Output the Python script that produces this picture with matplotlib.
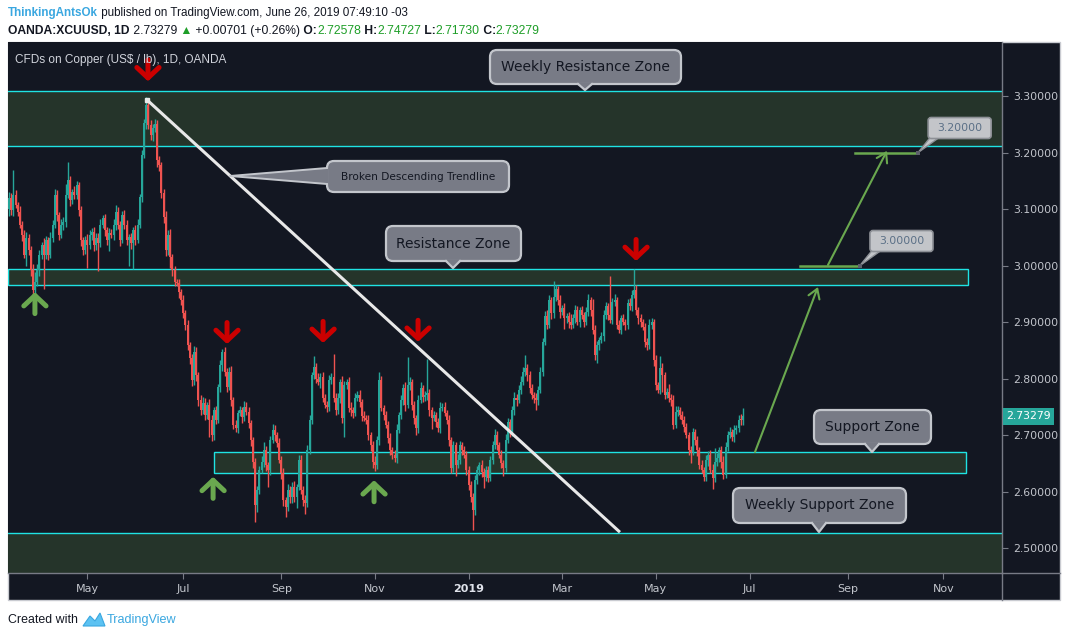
import numpy as np
import pandas as pd
import matplotlib
matplotlib.use("Agg")
import matplotlib.pyplot as plt
import matplotlib.transforms as mtransforms
from matplotlib.patches import Rectangle, FancyBboxPatch, Polygon
from matplotlib.lines import Line2D

# ---------------- data ----------------
START_DATE = "2018-03-12"          # first daily bar
FIRST_OPEN = 3.100
CLOSES = [
    3.120, 3.098, 3.125, 3.107, 3.095, 3.072, 3.054, 3.019, 3.049, 3.027,
    2.992, 2.957, 2.971, 2.992, 3.019, 3.036, 3.019, 3.045, 3.019, 3.049,
    3.072, 3.125, 3.089, 3.054, 3.072, 3.077, 3.125, 3.151, 3.116, 3.130,
    3.125, 3.142, 3.098, 3.045, 3.027, 3.045, 3.036, 3.054, 3.060, 3.036,
    3.049, 3.040, 3.072, 3.084, 3.063, 3.045, 3.058, 3.054, 3.072, 3.095,
    3.072, 3.045, 3.089, 3.072, 3.045, 3.050, 3.040, 3.063, 3.045, 3.072,
    3.121, 3.196, 3.252, 3.284, 3.249, 3.231, 3.243, 3.250, 3.187, 3.178,
    3.128, 3.086, 3.027, 3.054, 3.015, 2.992, 2.971, 2.969, 2.953, 2.939,
    2.916, 2.895, 2.859, 2.836, 2.797, 2.847, 2.806, 2.762, 2.744, 2.757,
    2.735, 2.753, 2.727, 2.700, 2.744, 2.727, 2.785, 2.824, 2.847, 2.812,
    2.785, 2.812, 2.762, 2.718, 2.712, 2.739, 2.744, 2.732, 2.750, 2.741,
    2.721, 2.691, 2.652, 2.576, 2.603, 2.638, 2.652, 2.673, 2.647, 2.638,
    2.691, 2.709, 2.700, 2.686, 2.656, 2.633, 2.585, 2.573, 2.603, 2.590,
    2.608, 2.590, 2.608, 2.656, 2.603, 2.585, 2.580, 2.673, 2.727, 2.806,
    2.820, 2.800, 2.794, 2.803, 2.766, 2.753, 2.750, 2.797, 2.803, 2.766,
    2.744, 2.766, 2.794, 2.730, 2.788, 2.794, 2.748, 2.744, 2.739, 2.766,
    2.770, 2.758, 2.734, 2.730, 2.727, 2.700, 2.682, 2.652, 2.647, 2.691,
    2.797, 2.748, 2.735, 2.718, 2.695, 2.673, 2.665, 2.659, 2.709, 2.735,
    2.762, 2.783, 2.753, 2.788, 2.794, 2.753, 2.730, 2.712, 2.762, 2.783,
    2.767, 2.770, 2.774, 2.744, 2.730, 2.735, 2.723, 2.712, 2.748, 2.750,
    2.739, 2.727, 2.691, 2.642, 2.682, 2.647, 2.656, 2.682, 2.673, 2.665,
    2.638, 2.612, 2.590, 2.567, 2.620, 2.638, 2.647, 2.635, 2.626, 2.638,
    2.624, 2.656, 2.682, 2.700, 2.682, 2.665, 2.650, 2.642, 2.691, 2.723,
    2.705, 2.744, 2.766, 2.762, 2.780, 2.794, 2.812, 2.819, 2.806, 2.783,
    2.771, 2.766, 2.762, 2.780, 2.812, 2.865, 2.911, 2.895, 2.939, 2.916,
    2.944, 2.958, 2.939, 2.918, 2.925, 2.907, 2.910, 2.900, 2.895, 2.907,
    2.921, 2.900, 2.921, 2.912, 2.900, 2.918, 2.939, 2.921, 2.886, 2.842,
    2.859, 2.868, 2.875, 2.912, 2.928, 2.912, 2.904, 2.935, 2.939, 2.895,
    2.886, 2.907, 2.900, 2.895, 2.933, 2.928, 2.948, 2.957, 2.921, 2.907,
    2.900, 2.891, 2.865, 2.859, 2.895, 2.900, 2.833, 2.788, 2.780, 2.819,
    2.806, 2.771, 2.776, 2.766, 2.762, 2.718, 2.741, 2.744, 2.735, 2.727,
    2.714, 2.700, 2.673, 2.670, 2.705, 2.691, 2.673, 2.647, 2.638, 2.626,
    2.656, 2.665, 2.638, 2.624, 2.652, 2.660, 2.673, 2.652, 2.630, 2.679,
    2.700, 2.705, 2.697, 2.709, 2.712, 2.727, 2.72578, 2.73279,
]
# wick lengths above / below the body, in thousandths of a dollar
UP_WICK = [
    10, 8, 44, 8, 6, 10, 6, 8, 10, 6,
    8, 10, 18, 10, 8, 6, 12, 8, 6, 10,
    8, 10, 8, 6, 10, 8, 20, 32, 8, 6,
    10, 8, 6, 8, 6, 8, 10, 8, 6, 8,
    8, 8, 10, 6, 8, 6, 8, 6, 10, 12,
    8, 6, 8, 10, 8, 6, 8, 6, 8, 10,
    6, 8, 8, 14, 8, 8, 8, 10, 8, 6,
    6, 8, 10, 8, 10, 6, 8, 6, 8, 6,
    8, 6, 8, 6, 8, 10, 8, 6, 8, 10,
    8, 6, 10, 8, 6, 8, 6, 8, 6, 8,
    6, 8, 10, 6, 8, 6, 8, 6, 10, 8,
    8, 6, 6, 8, 6, 8, 10, 14, 8, 6,
    8, 10, 8, 6, 8, 6, 8, 6, 10, 6,
    8, 10, 6, 8, 8, 6, 8, 10, 8, 6,
    20, 8, 10, 6, 8, 6, 8, 10, 6, 40,
    8, 8, 6, 10, 8, 6, 8, 10, 6, 8,
    8, 10, 6, 8, 6, 8, 6, 8, 10, 8,
    15, 8, 6, 8, 6, 8, 6, 8, 10, 6,
    8, 8, 10, 50, 8, 6, 8, 6, 8, 10,
    6, 8, 60, 8, 6, 8, 6, 8, 10, 6,
    8, 6, 8, 6, 8, 6, 10, 8, 6, 8,
    6, 8, 6, 8, 10, 8, 6, 8, 6, 8,
    8, 6, 8, 10, 8, 6, 8, 6, 10, 8,
    6, 8, 10, 6, 8, 10, 8, 23, 6, 8,
    8, 6, 8, 6, 8, 6, 8, 10, 8, 6,
    28, 8, 6, 8, 6, 8, 6, 8, 15, 8,
    10, 8, 6, 8, 6, 8, 10, 6, 20, 8,
    8, 6, 8, 10, 8, 6, 70, 8, 10, 6,
    8, 6, 8, 6, 8, 10, 8, 37, 8, 6,
    8, 6, 8, 6, 10, 8, 6, 8, 6, 20,
    8, 6, 8, 15, 6, 8, 10, 8, 6, 8,
    6, 8, 6, 8, 8, 6, 8, 6, 8, 6,
    8, 6, 8, 10, 25, 8, 6, 8, 10, 8,
    8, 10, 6, 8, 6, 8, 10, 14,
]
DN_WICK = [
    12, 8, 10, 6, 8, 6, 10, 6, 20, 8,
    10, 12, 6, 8, 10, 8, 60, 8, 10, 6,
    8, 6, 10, 8, 6, 10, 8, 6, 10, 8,
    8, 8, 10, 10, 8, 6, 40, 6, 8, 10,
    8, 50, 8, 6, 10, 8, 20, 6, 8, 10,
    8, 10, 6, 8, 8, 45, 10, 46, 8, 6,
    6, 8, 6, 10, 8, 8, 10, 6, 12, 10,
    8, 10, 10, 8, 20, 10, 8, 6, 10, 8,
    8, 10, 8, 10, 10, 8, 10, 10, 8, 6,
    8, 6, 30, 10, 8, 8, 6, 8, 10, 8,
    8, 6, 10, 8, 6, 8, 6, 10, 8, 6,
    8, 10, 10, 30, 12, 8, 6, 8, 10, 30,
    8, 6, 10, 8, 6, 10, 10, 18, 8, 10,
    10, 8, 20, 6, 8, 10, 20, 8, 6, 8,
    6, 8, 6, 10, 8, 6, 10, 8, 6, 8,
    8, 6, 10, 8, 34, 6, 8, 10, 8, 6,
    6, 8, 10, 6, 8, 8, 10, 10, 10, 8,
    8, 6, 8, 6, 10, 8, 8, 6, 8, 6,
    6, 8, 10, 6, 8, 8, 10, 12, 8, 6,
    8, 6, 8, 10, 20, 6, 8, 6, 8, 6,
    6, 8, 10, 10, 8, 20, 6, 8, 8, 6,
    8, 10, 8, 35, 8, 6, 8, 10, 20, 8,
    8, 6, 8, 6, 8, 6, 8, 15, 8, 6,
    8, 6, 8, 10, 6, 8, 6, 8, 10, 8,
    8, 10, 18, 8, 6, 8, 6, 8, 6, 10,
    8, 6, 8, 10, 6, 20, 8, 10, 8, 6,
    8, 6, 8, 6, 8, 6, 8, 10, 8, 10,
    15, 8, 6, 8, 6, 8, 6, 8, 6, 8,
    6, 8, 6, 10, 8, 6, 8, 6, 8, 10,
    8, 6, 10, 8, 6, 8, 10, 8, 6, 8,
    30, 8, 6, 8, 10, 8, 6, 8, 6, 8,
    8, 6, 8, 20, 6, 8, 10, 8, 6, 8,
    8, 10, 6, 20, 8, 6, 8, 10, 8, 6,
    8, 6, 8, 10, 8, 6, 8, 9,
]
LAST_OHLC = (2.72578, 2.74727, 2.71730, 2.73279)

Y_TICKS = [2.5, 2.6, 2.7, 2.8, 2.9, 3.0, 3.1, 3.2, 3.3]

# zones (price bounds) and their bar-index extents
WEEKLY_RES = (3.212, 3.309)
RES_ZONE = (2.966, 2.993)
RES_ZONE_BARS = (-0.5, 440.3)
SUP_ZONE = (2.632, 2.670)
SUP_ZONE_BARS = (94.1, 439.4)
WEEKLY_SUP_TOP = 2.526

# drawings: (bar index, price)
TRENDLINE = [(63.4, 3.293), (280.5, 2.528)]
PROJ_1 = [(342.5, 2.670), (371.4, 2.962)]
PROJ_2 = [(376.0, 3.001), (403.1, 3.203)]
TARGET_1 = (3.000, 363.2, 390.7)
TARGET_2 = (3.200, 388.4, 417.4)
RED_ARROWS = [(63.8, 3.326), (100.1, 2.861), (144.2, 2.863), (187.8, 2.865), (287.9, 3.008)]
GREEN_ARROWS = [(11.9, 2.953), (93.7, 2.626), (167.6, 2.620)]

# ---------------- figure ----------------
W, H = 1068, 638
fig = plt.figure(figsize=(W / 100, H / 100), dpi=100)
fig.patch.set_facecolor("white")
PIX = mtransforms.Affine2D().scale(1 / W, -1 / H).translate(0, 1) + fig.transFigure
renderer = fig.canvas.get_renderer()

BG = "#131722"
AXC = "#787b86"
TXT = "#c2c5cc"
UP_C, DN_C = "#26a69a", "#ef5350"
ZONE_FILL = "#25342a"
ZONE_EDGE = "#1fe3e3"
GREEN = "#6aa84f"

# dark chart panel
fig.add_artist(Rectangle((8, 42), 1052, 558, transform=PIX, fc=BG, ec="#c9cbd1", lw=1, zorder=0))

ax = fig.add_axes([8 / W, 1 - 573 / H, (1002 - 8) / W, (573 - 42) / H])
ax.set_facecolor(BG)
X0, X1 = -0.46, 455.9
ax.set_xlim(X0, X1)
ax.set_ylim(2.4558, 3.3956)
for s in ("top", "left"):
    ax.spines[s].set_visible(False)
for s in ("right", "bottom"):
    ax.spines[s].set_color(AXC)
    ax.spines[s].set_linewidth(1)

# y axis on the right
ax.yaxis.tick_right()
ax.set_yticks(Y_TICKS)
ax.set_yticklabels([f"{v:.5f}" for v in Y_TICKS])
ax.tick_params(axis="y", colors=AXC, labelcolor=TXT, length=4, width=0.8, pad=4, labelsize=7.8)

# x axis: month ticks
all_dates = pd.bdate_range(START_DATE, periods=470)
xt, xl = [], []
for i in range(1, len(all_dates)):
    d, p = all_dates[i], all_dates[i - 1]
    if d.month != p.month and d.month % 2 == 1 and i < X1:
        xt.append(i)
        xl.append("2019" if d.month == 1 else d.strftime("%b"))
ax.set_xticks(xt)
ax.set_xticklabels(xl)
ax.tick_params(axis="x", colors=AXC, labelcolor=TXT, length=4, width=0.8, pad=4, labelsize=8)
for lab in ax.get_xticklabels():
    if lab.get_text() == "2019":
        lab.set_fontweight("bold")
        lab.set_color("#e0e3eb")

# extra separator lines of the right / bottom scale areas
fig.add_artist(Line2D([1002, 1002], [573, 600], transform=PIX, color=AXC, lw=1))
fig.add_artist(Line2D([1002, 1060], [573, 573], transform=PIX, color=AXC, lw=1))

# ---------------- zones ----------------
ax.axhspan(*WEEKLY_RES, color=ZONE_FILL, lw=0, zorder=1)
for v in WEEKLY_RES:
    ax.axhline(v, color=ZONE_EDGE, lw=1, zorder=2)
ax.axhspan(2.40, WEEKLY_SUP_TOP, color=ZONE_FILL, lw=0, zorder=1)
ax.axhline(WEEKLY_SUP_TOP, color=ZONE_EDGE, lw=1, zorder=2)
for (lo_, hi_), (b0, b1) in ((RES_ZONE, RES_ZONE_BARS), (SUP_ZONE, SUP_ZONE_BARS)):
    ax.add_patch(Rectangle((b0, lo_), b1 - b0, hi_ - lo_, fc=ZONE_FILL, ec=ZONE_EDGE, lw=1, zorder=1.5))

# ---------------- candles ----------------
c = np.array(CLOSES, dtype=float)
n = len(c)
o = np.r_[FIRST_OPEN, c[:-1]]
o[-1] = LAST_OHLC[0]
hi = np.maximum(o, c) + np.array(UP_WICK[:n]) / 1000.0
lo = np.minimum(o, c) - np.array(DN_WICK[:n]) / 1000.0
hi[-1], lo[-1] = LAST_OHLC[1], LAST_OHLC[2]
idx = np.arange(n)
cols = np.where(c >= o, UP_C, DN_C)
ax.vlines(idx, lo, hi, colors=cols, lw=1.0, zorder=3)
ax.bar(idx, np.maximum(np.abs(c - o), 0.002), bottom=np.minimum(o, c), width=0.92,
       color=cols, lw=0, zorder=4)

# ---------------- drawings ----------------
(tx0, ty0), (tx1, ty1) = TRENDLINE
ax.plot([tx0, tx1], [ty0, ty1], color="#e8e8e8", lw=2.2, zorder=5, solid_capstyle="butt")
ax.plot([tx0], [ty0], marker="s", ms=2.5, color="#e8e8e8", zorder=5)

for (a, b) in (PROJ_1, PROJ_2):
    ax.annotate("", xy=b, xytext=a, xycoords="data", textcoords="data",
                arrowprops=dict(arrowstyle="->,head_length=0.55,head_width=0.35", color=GREEN,
                                lw=1.5, shrinkA=0, shrinkB=0, mutation_scale=12), zorder=6)
for (lvl, b0, b1) in (TARGET_1, TARGET_2):
    ax.plot([b0, b1], [lvl, lvl], color=GREEN, lw=1.8, zorder=6)

arrow_kw = dict(arrowstyle="->,head_length=0.75,head_width=0.8", lw=3.6, shrinkA=0, shrinkB=0,
                mutation_scale=10, capstyle="round", joinstyle="round")
for (bx, py) in RED_ARROWS:
    ax.annotate("", xy=(bx, py), xytext=(0, 15.5), textcoords="offset points",
                arrowprops=dict(color="#cc0000", **arrow_kw), zorder=8, annotation_clip=False)
for (bx, py) in GREEN_ARROWS:
    ax.annotate("", xy=(bx, py), xytext=(0, -15.5), textcoords="offset points",
                arrowprops=dict(color="#6aa84f", **arrow_kw), zorder=8)

# ---------------- callouts ----------------
BOX_FC, BOX_EC = "#787b86", "#c3c6cc"


def callout(box, text, fs, ptr=None, wedge=None):
    x0, y0, x1, y1 = box
    fig.add_artist(FancyBboxPatch((x0, y0), x1 - x0, y1 - y0,
                                  boxstyle="round,pad=0,rounding_size=7", transform=PIX,
                                  fc=BOX_FC, ec=BOX_EC, lw=1.6, zorder=30))
    if ptr is not None:
        px, tip = ptr
        fig.add_artist(Polygon([(px - 7, y1 - 1.5), (px, tip), (px + 7, y1 - 1.5)], closed=True,
                               transform=PIX, fc=BOX_FC, ec="none", zorder=31))
        fig.add_artist(Line2D([px - 7, px, px + 7], [y1, tip, y1], transform=PIX,
                              color=BOX_EC, lw=1.6, zorder=31))
    if wedge is not None:
        (wx, wy), (ya, yb) = wedge
        fig.add_artist(Polygon([(x0 + 1.5, ya), (wx, wy), (x0 + 1.5, yb)], closed=True,
                               transform=PIX, fc=BOX_FC, ec="none", zorder=31))
        fig.add_artist(Line2D([x0, wx, x0], [ya, wy, yb], transform=PIX,
                              color=BOX_EC, lw=1.4, zorder=31))
    fig.text((x0 + x1) / 2 / W, 1 - (y0 + y1) / 2 / H, text, ha="center", va="center",
             fontsize=fs, color="#131722", zorder=32)


callout((490, 50, 681, 84), "Weekly Resistance Zone", 10, ptr=(585, 90))
callout((327, 161, 509, 192), "Broken Descending Trendline", 7.6, wedge=((230, 176), (168, 184)))
callout((386, 226, 521, 261), "Resistance Zone", 10, ptr=(453, 268))
callout((814, 410, 931, 444), "Support Zone", 10, ptr=(872, 452))
callout((733, 488, 906, 523), "Weekly Support Zone", 10, ptr=(819, 532))


def price_label(bar, price):
    dx, dy = ax.transData.transform((bar, price))
    tx, ty = dx, H - dy
    bx0, by0, bw, bh = tx + 10, ty - 35, 63, 21
    fig.add_artist(Polygon([(bx0 + 2, by0 + bh - 1), (tx, ty), (bx0 + 11, by0 + bh - 1)], closed=True,
                           transform=PIX, fc="#c3c5c9", ec="#8d9096", lw=1, zorder=33))
    fig.add_artist(FancyBboxPatch((bx0, by0), bw, bh, boxstyle="round,pad=0,rounding_size=3",
                                  transform=PIX, fc="#c3c5c9", ec="#8d9096", lw=1.2, zorder=34))
    fig.add_artist(Rectangle((tx - 2, ty - 2), 4, 4, transform=PIX, fc="#5d606b", ec="none", zorder=35))
    fig.text((bx0 + bw / 2) / W, 1 - (by0 + bh / 2) / H, f"{price:.5f}", ha="center", va="center",
             fontsize=7.8, color="#5a6f86", zorder=36)


price_label(TARGET_2[2], TARGET_2[0])
price_label(TARGET_1[2], TARGET_1[0])

# last price label on the scale
ax.annotate(f"{LAST_OHLC[3]:.5f}", xy=(1, LAST_OHLC[3]), xycoords=("axes fraction", "data"),
            xytext=(3, 0), textcoords="offset points", ha="left", va="center", fontsize=7.8,
            color="white", annotation_clip=False, zorder=40,
            bbox=dict(boxstyle="square,pad=0.3", fc=UP_C, ec="none"))

# ---------------- texts ----------------
FAM = ["Liberation Sans", "DejaVu Sans"]


def rich_line(x_px, y_px, parts, fs, target_w):
    total = 0
    for s, col, wt in parts:
        t = fig.text(0, 0, s, fontsize=fs, fontweight=wt, family=FAM)
        total += t.get_window_extent(renderer).width
        t.remove()
    fs = fs * target_w / total
    x = x_px
    for s, col, wt in parts:
        t = fig.text(x / W, 1 - y_px / H, s, fontsize=fs, color=col, fontweight=wt, family=FAM,
                     ha="left", va="center")
        x += t.get_window_extent(renderer).width


BLUE = "#3aa7e0"
GRN = "#1e9e28"
rich_line(8, 13, [("ThinkingAntsOk", BLUE, "bold"),
                  (" published on TradingView.com, June 26, 2019 07:49:10 -03", "#131722", "normal")],
          10, 400)
rich_line(8, 31, [("OANDA:XCUUSD, 1D", "#131722", "bold"), (" 2.73279", "#131722", "normal"),
                  (" \u25B2", GRN, "normal"), (" +0.00701 (+0.26%)", "#131722", "normal"),
                  (" O:", "#131722", "bold"), ("2.72578", GRN, "normal"),
                  (" H:", "#131722", "bold"), ("2.74727", GRN, "normal"),
                  (" L:", "#131722", "bold"), ("2.71730", GRN, "normal"),
                  (" C:", "#131722", "bold"), ("2.73279", GRN, "normal")],
          10, 535)
rich_line(15, 60, [("CFDs on Copper (US$ / lb), 1D, OANDA", "#d1d4dc", "normal")], 9, 212)

rich_line(8, 620, [("Created with", "#131722", "normal")], 9, 70)
# small TradingView logo
fig.add_artist(Polygon([(83, 626), (90, 616), (95, 621), (100, 613), (105, 626)], closed=True,
                       transform=PIX, fc="#5cc2f2", ec="#3aa7e0", lw=0.8))
rich_line(107, 620, [("TradingView", "#3aa7e0", "normal")], 9, 70)

fig.savefig("out.png", dpi=100, facecolor="white")
